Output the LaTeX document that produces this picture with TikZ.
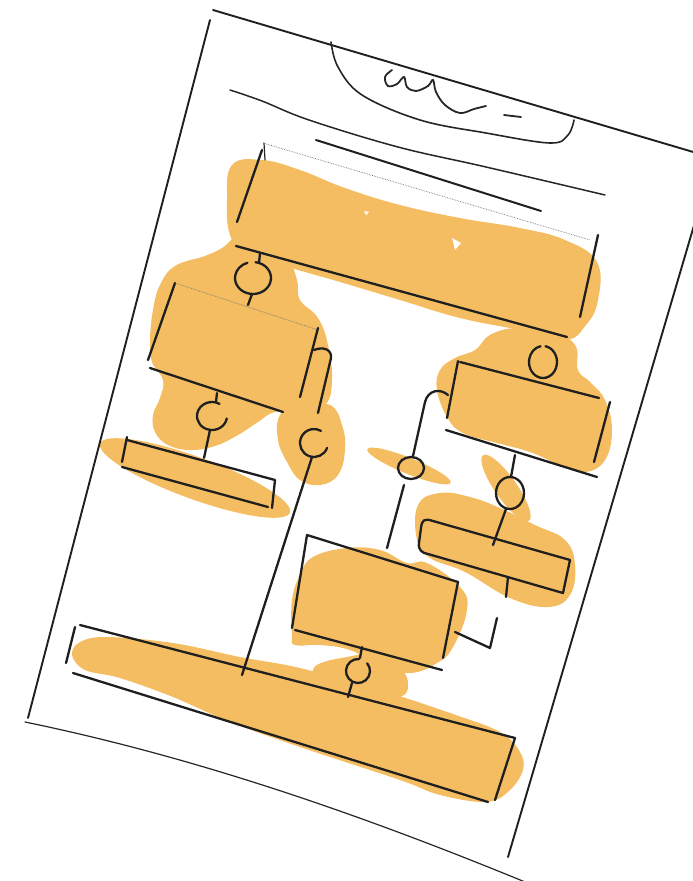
\documentclass[tikz,border=0pt]{standalone}
\definecolor{blob}{RGB}{245,189,97}
\begin{document}
\begin{tikzpicture}[x=1pt,y=-1pt,
  ink/.style={line width=2.3pt, line cap=round, line join=round, black!88},
  pageline/.style={line width=1.9pt, line cap=round, black!88},
  thinline/.style={line width=1.2pt, line cap=round, black!85},
  faint/.style={line width=0.7pt, black!55, densely dotted},
  blobfill/.style={fill=blob, draw=none}]
\useasboundingbox (0,0) rectangle (693,881);
\clip (0,0) rectangle (693,881);
% ---------- orange blobs ----------
% top box
\fill[blobfill] plot[smooth cycle, tension=0.7] coordinates {(232,165) (262,160) (300,170) (345,188) (400,205) (460,218) (520,228) (565,240) (597,262) (598,300) (586,325) (565,340) (520,330) (460,318) (400,300) (340,282) (285,266) (245,252) (230,235) (227,200)};
% neck + box 2
\fill[blobfill] plot[smooth cycle, tension=0.7] coordinates {(240,236) (265,245) (287,257) (297,280) (300,300) (318,318) (328,345) (332,380) (325,405) (300,412) (275,412) (258,422) (238,435) (215,446) (190,450) (168,445) (155,432) (153,415) (160,398) (163,380) (152,362) (150,340) (153,310) (160,285) (175,266) (205,256) (222,248)};
% lobe round the third ring
\fill[blobfill] plot[smooth cycle, tension=0.7] coordinates {(280,415) (300,405) (330,405) (342,425) (345,450) (338,475) (320,485) (300,480) (287,462) (278,440)};
% small box 3
\fill[blobfill, rotate around={-20:(195,478)}] (195,478) ellipse [x radius=101, y radius=21];
% box 4 with its ring
\fill[blobfill] plot[smooth cycle, tension=0.7] coordinates {(440,370) (455,358) (475,350) (490,335) (515,328) (550,330) (575,345) (578,370) (590,382) (605,400) (612,430) (605,460) (585,472) (560,465) (530,452) (497,443) (463,433) (447,417) (437,390)};
% streaks
\fill[blobfill, rotate around={-22:(409,466)}] (409,466) ellipse [x radius=45, y radius=8];
\fill[blobfill, rotate around={-55:(506,488)}] (506,488) ellipse [x radius=40, y radius=11];
% box 5
\fill[blobfill] plot[smooth cycle, tension=0.7] coordinates {(418,505) (440,493) (470,497) (500,508) (535,525) (565,540) (575,565) (570,595) (548,607) (510,598) (465,572) (430,558) (417,540)};
% box 6
\fill[blobfill] plot[smooth cycle, tension=0.7] coordinates {(292,635) (292,600) (300,575) (313,557) (347,548) (380,550) (407,563) (427,563) (460,587) (467,610) (453,647) (437,663) (410,673) (380,665) (350,650) (320,645) (295,645)};
\fill[blobfill] plot[smooth cycle, tension=0.7] coordinates {(317,665) (347,657) (372,655) (400,668) (408,685) (400,697) (370,698) (330,690) (315,678)};
% bottom box
\fill[blobfill] plot[smooth cycle, tension=0.6] coordinates {(72,655) (80,642) (107,637) (173,643) (240,657) (300,668) (380,690) (450,713) (500,732) (520,752) (523,770) (510,790) (487,802) (440,795) (400,780) (300,747) (230,722) (173,697) (120,678) (85,670)};
% white specks
\fill[white] (452,238) -- (461,243) -- (455,250) -- cycle;
\fill[white] (364,211) -- (369,212) -- (366,215) -- cycle;
% ---------- page ----------
\draw[pageline] (213,10) -- (700,154);
\draw[pageline] (210,20) -- (28,718);
\draw[pageline] (695,222) -- (508,857);
\draw[thinline] (25,722) .. controls (195,757) and (360,814) .. (530,884);
% header
\draw[thinline, line width=1.6pt] plot[smooth, tension=0.6] coordinates {(331,42) (338,67) (362,95) (420,120) (486,133) (550,143) (568,135) (574,120)};
\draw[thinline, line width=1.8pt] plot[smooth, tension=0.6] coordinates {(392,70) (385,77) (388,86) (397,84) (404,77) (407,87) (416,91) (428,86) (433,80) (436,92) (445,105) (460,113) (474,109) (486,106)};
\draw[thinline, line width=1.8pt] (504,115) -- (521,117);
\draw[thinline, line width=1.5pt] plot[smooth, tension=0.6] coordinates {(230,90) (262,101) (309,120) (398,147) (486,167) (605,195)};
\draw[ink, line width=2pt] (316,140) -- (541,211);
% ---------- box 1 ----------
\draw[ink] (262,150) -- (237,222);
\draw[thinline] (264,143) -- (265,160);
\draw[faint] (263,143) -- (590,240);
\draw[ink] (236,246) -- (567,337);
\draw[ink] (598,235) -- (580,317);
% ring 1
\draw[ink] (260,253) -- (259,263);
\draw[ink] (253,278) ++(278:18 and 16) arc[start angle=278, end angle=612, x radius=18, y radius=16];
\draw[ink] (252,294) -- (248,305);
% ---------- box 2 ----------
\draw[ink] (175,283) -- (148,360);
\draw[faint] (175,283) -- (318,330);
\draw[ink] (150,368) -- (283,412);
\draw[ink] (318,328) -- (300,397);
% ring 2
\draw[ink] (217,393) -- (216,402);
\draw[ink] (212,416) ++(10:15 and 14) arc[start angle=10, end angle=300, x radius=15, y radius=14];
\draw[ink] (210,430) -- (204,458);
% ---------- box 3 ----------
\draw[ink] (127,437) -- (122,462);
\draw[ink] (127,440) -- (275,480) -- (272,508);
\draw[ink] (122,467) -- (268,507);
% hook and ring 3
\draw[ink] (314,350) .. controls (324,346) and (332,350) .. (331,358) -- (318,413);
\draw[ink] (314,443) ++(20:14) arc[start angle=20, end angle=300, radius=14];
\draw[ink] (312,457) -- (242,675);
% ---------- box 4 ----------
\draw[ink] (543,362) ++(280:14 and 16) arc[start angle=280, end angle=620, x radius=14, y radius=16];
\draw[ink] (458,361) -- (447,418);
\draw[ink] (460,362) -- (599,398);
\draw[ink] (610,402) -- (594,462);
\draw[ink] (446,430) -- (597,477);
\draw[ink] (448,395) .. controls (440,388) and (428,390) .. (425,402) -- (413,456);
\draw[ink] (411,468) ellipse [x radius=13, y radius=11];
\draw[ink] (404,485) -- (387,548);
\draw[ink] (515,455) -- (511,477);
\draw[ink] (510,493) ellipse [x radius=14, y radius=16];
\draw[ink] (506,509) -- (493,545);
% ---------- box 5 ----------
\draw[ink] (570,560) -- (433,521) .. controls (424,518) and (422,520) .. (421,528) -- (419,543) .. controls (418,550) and (422,553) .. (428,554) -- (563,593) -- (570,560);
\draw[ink] (508,577) -- (506,597);
\draw[ink] (455,632) -- (490,648) -- (497,618);
% ---------- box 6 ----------
\draw[ink] (458,582) -- (307,535) -- (292,628);
\draw[ink] (295,630) -- (442,670);
\draw[ink] (458,582) -- (443,658);
\draw[ink] (362,647) -- (360,658);
\draw[ink] (358,671) ++(-40:12) arc[start angle=-40, end angle=275, radius=12];
\draw[ink] (352,683) -- (348,697);
% ---------- box 7 ----------
\draw[ink] (80,625) -- (515,738) -- (495,800);
\draw[ink] (75,627) -- (66,663);
\draw[ink] (73,673) -- (488,802);
\end{tikzpicture}
\end{document}
